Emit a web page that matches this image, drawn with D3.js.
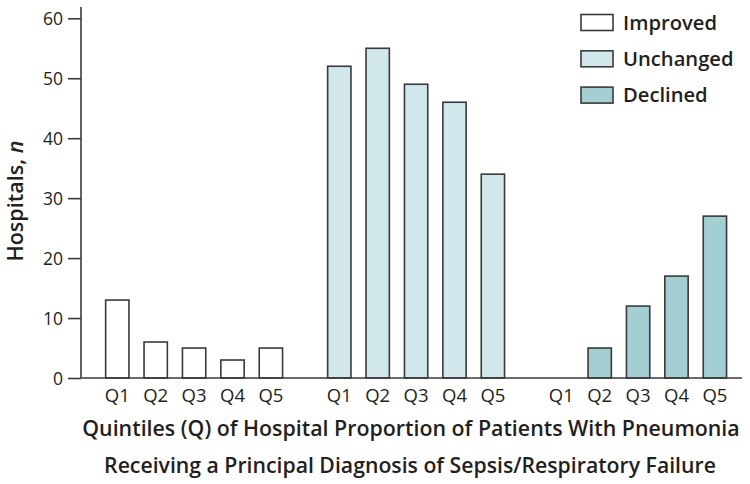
<!DOCTYPE html>
<html>
<head>
<meta charset="utf-8">
<script src="https://cdn.jsdelivr.net/npm/d3@7"></script>
<style>
  html, body { margin: 0; padding: 0; background: #fff; }
  svg { display: block; }
  text { font-family: "Open Sans", "Noto Sans", sans-serif; fill: #231f20; }
</style>
</head>
<body>
<svg id="chart" width="750" height="484"></svg>
<script>
// ---- data ----
const groups = ["Improved", "Unchanged", "Declined"];
const quintiles = ["Q1", "Q2", "Q3", "Q4", "Q5"];
const improved = [13, 6, 5, 3, 5];
const unchanged = [52, 55, 49, 46, 34];
const declined = [0, 5, 12, 17, 27];
const yTicks = [0, 10, 20, 30, 40, 50, 60];
const colors = ["#ffffff", "#d1e7eb", "#a3cfd2"];
const xTitle = ["Quintiles (Q) of Hospital Proportion of Patients With Pneumonia",
                "Receiving a Principal Diagnosis of Sepsis/Respiratory Failure"];

const seriesValues = [improved, unchanged, declined];
const data = [];
groups.forEach((g, gi) => quintiles.forEach((q, qi) => data.push({group: g, q, value: seriesValues[gi][qi], color: colors[gi]})));

const svg = d3.select("#chart");
const axisX = 81, baseY = 378, topY = 18.3;

// fit a text element's font size to a target width
function fit(sel, target) {
  sel.each(function() {
    const fs = parseFloat(this.style.fontSize);
    const w = this.getComputedTextLength();
    if (w > 0) this.style.fontSize = (fs * target / w) + "px";
  });
}

const y = d3.scaleLinear().domain([0, 60]).range([baseY, topY]);
const gx = d3.scaleBand().domain(groups).range([98.1, 734.1]).paddingInner(30 / 222);
const qx = d3.scaleBand().domain(quintiles).range([0, gx.bandwidth()]).paddingInner(0.393).paddingOuter(0.1965);

const stroke = "#3a3a3a";

// bars
svg.append("g").selectAll("rect").data(data.filter(d => d.value > 0)).join("rect")
  .attr("x", d => gx(d.group) + qx(d.q))
  .attr("y", d => y(d.value))
  .attr("width", qx.bandwidth())
  .attr("height", d => y(0) - y(d.value))
  .attr("fill", d => d.color)
  .attr("stroke", stroke)
  .attr("stroke-width", 1.6);

// y axis
const yAxis = d3.axisLeft(y).tickValues(yTicks).tickSize(13).tickPadding(5).tickFormat(d3.format("d"));
const ya = svg.append("g").attr("transform", `translate(${axisX},0)`).call(yAxis);
ya.select(".domain").remove();
ya.selectAll(".tick line").attr("stroke", stroke).attr("stroke-width", 1.6);
ya.selectAll(".tick text").style("font-size", "17.5px").style("font-weight", "400").attr("fill", "#231f20").attr("dy", "0.35em");
svg.append("line").attr("x1", axisX).attr("x2", axisX).attr("y1", 7).attr("y2", baseY)
  .attr("stroke", stroke).attr("stroke-width", 1.6);
// baseline
svg.append("line").attr("x1", axisX).attr("x2", 742).attr("y1", baseY).attr("y2", baseY)
  .attr("stroke", stroke).attr("stroke-width", 1.6);

// x labels
const ql = svg.append("g").selectAll("text").data(data).join("text")
  .attr("x", d => gx(d.group) + qx(d.q) + qx.bandwidth() / 2)
  .attr("y", 401.7)
  .attr("text-anchor", "middle")
  .style("font-size", "16px")
  .text(d => d.q);
fit(ql, 25);

// x title
const xtCenters = [411, 410], xtWidths = [658, 612];
const xt = svg.append("g").selectAll("text").data(xTitle).join("text")
  .attr("x", (d, i) => xtCenters[i])
  .attr("y", (d, i) => i === 0 ? 435.7 : 473.3)
  .attr("text-anchor", "middle")
  .style("font-size", "18px")
  .style("font-weight", "600")
  .text(d => d);
xt.each(function(d, i) { fit(d3.select(this), xtWidths[i]); });

// y title
const yt = svg.append("text")
  .attr("transform", "translate(22.5,201) rotate(-90)")
  .attr("text-anchor", "middle")
  .style("font-size", "20px")
  .style("font-weight", "600");
yt.append("tspan").text("Hospitals, ");
yt.append("tspan").style("font-style", "italic").text("n");
fit(yt, 121);

// legend
const leg = svg.append("g").selectAll("g").data(groups).join("g")
  .attr("transform", (d, i) => `translate(581,${14.5 + i * 36.3})`);
leg.append("rect").attr("width", 32).attr("height", 16)
  .attr("fill", (d, i) => colors[i]).attr("stroke", stroke).attr("stroke-width", 1.6);
const lt = leg.append("text").attr("x", 42).attr("y", 8).attr("dy", "0.36em")
  .style("font-size", "19px").style("font-weight", "600")
  .text(d => d);
lt.filter(d => d === "Improved").call(s => fit(s, 94));
const legSize = lt.filter(d => d === "Improved").style("font-size");
lt.style("font-size", legSize);
</script>
</body>
</html>
